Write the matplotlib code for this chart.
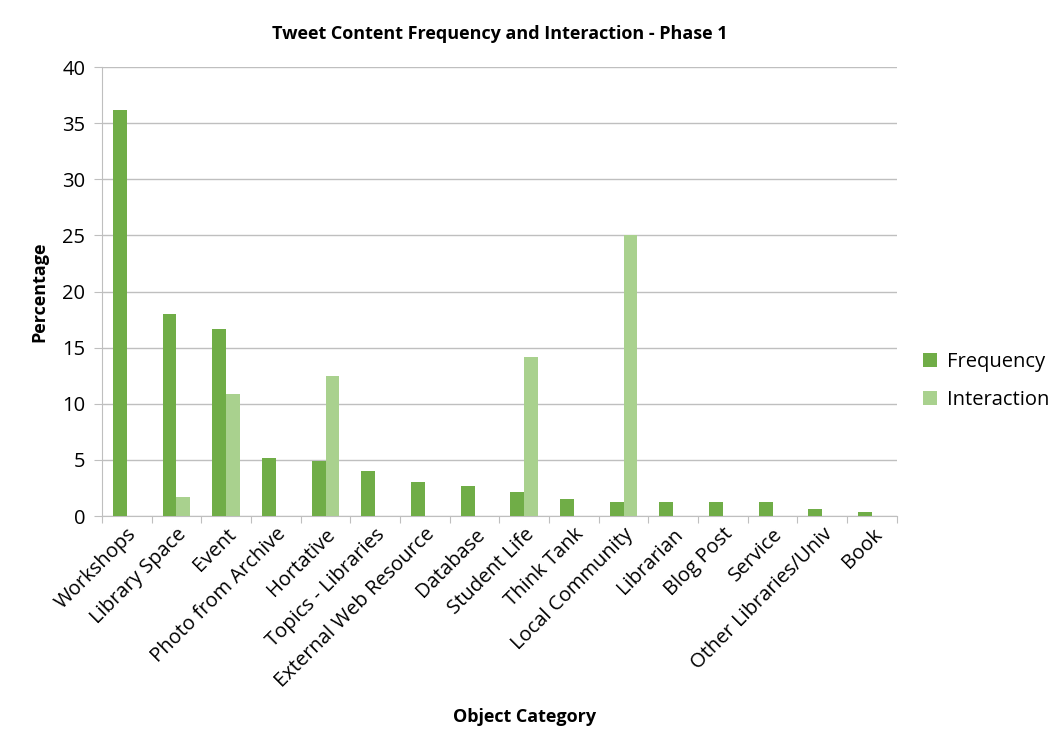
import matplotlib
matplotlib.use("Agg")
import matplotlib.pyplot as plt
import numpy as np

categories = ["Workshops", "Library Space", "Event", "Photo from Archive", "Hortative",
              "Topics - Libraries", "External Web Resource", "Database", "Student Life",
              "Think Tank", "Local Community", "Librarian", "Blog Post", "Service",
              "Other Libraries/Univ", "Book"]
frequency = [36.2, 18.0, 16.7, 5.2, 4.9, 4.0, 3.05, 2.7, 2.15, 1.5, 1.25, 1.25, 1.25, 1.25, 0.62, 0.35]
interaction = [0, 1.7, 10.9, 0, 12.5, 0, 0, 0, 14.2, 0, 25.0, 0, 0, 0, 0, 0]
yticks = [0, 5, 10, 15, 20, 25, 30, 35, 40]

plt.rcParams['font.family'] = ['Open Sans', 'DejaVu Sans']

fig = plt.figure(figsize=(10.5, 7.43), dpi=100)
ax = fig.add_axes([0.0971, 0.3055, 0.757, 0.6043])

x = np.arange(len(categories))
w = 0.28
ax.bar(x - w/2, frequency, width=w, color="#70AD47", label="Frequency", zorder=3)
ax.bar(x + w/2, interaction, width=w, color="#A9D18E", label="Interaction", zorder=3)

ax.set_xlim(-0.5, len(categories) - 0.5)
ax.set_ylim(0, 40)
ax.set_yticks(yticks)
ax.set_yticklabels([str(t) for t in yticks], fontsize=14.5)
ax.yaxis.grid(True, color="#BFBFBF", linewidth=1, zorder=0)
ax.set_axisbelow(True)

ax.set_xticks(np.arange(len(categories) + 1) - 0.5, minor=False)
ax.set_xticklabels([])
ax.tick_params(axis='x', which='major', length=5, color="#BFBFBF", direction='out')
ax.set_xticks(x, minor=True)
ax.set_xticklabels(categories, minor=True, rotation=45, ha='right', rotation_mode='anchor', fontsize=14.5)
ax.tick_params(axis='x', which='minor', length=0, pad=6)
ax.tick_params(axis='y', length=6, color="#BFBFBF", direction='out', pad=6)

for s in ['top', 'right']:
    ax.spines[s].set_visible(False)
ax.spines['left'].set_color("#BFBFBF")
ax.spines['bottom'].set_color("#BFBFBF")

ax.set_title("Tweet Content Frequency and Interaction - Phase 1", fontsize=13, fontweight='bold', pad=20)
ax.set_ylabel("Percentage", fontsize=13, fontweight='bold', labelpad=10)
fig.text(0.5, 0.035, "Object Category", ha='center', va='center', fontsize=13, fontweight='bold')

leg = ax.legend(loc='center left', bbox_to_anchor=(1.01, 0.3), frameon=False, fontsize=14.5,
                handlelength=0.7, handleheight=0.7, labelspacing=0.9, handletextpad=0.5)

fig.savefig("out.png", dpi=100)
